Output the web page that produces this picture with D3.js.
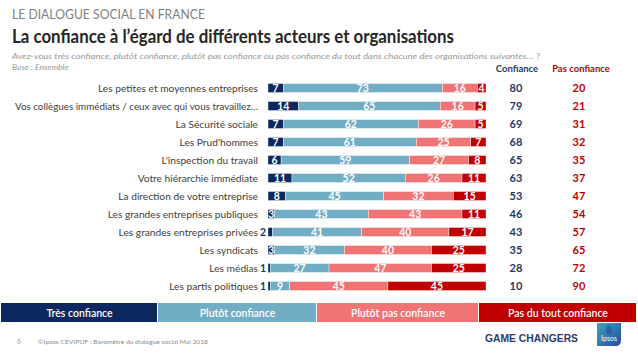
<!DOCTYPE html>
<html><head><meta charset="utf-8">
<script src="https://cdn.jsdelivr.net/npm/d3@7"></script>
<style>body{margin:0;background:#fff}svg{display:block}</style>
</head><body>
<script>
const categories = ["Les petites et moyennes entreprises","Vos collègues immédiats / ceux avec qui vous travaillez…","La Sécurité sociale","Les Prud'hommes","L'inspection du travail","Votre hiérarchie immédiate","La direction de votre entreprise","Les grandes entreprises publiques","Les grandes entreprises privées","Les syndicats","Les médias","Les partis politiques"];
const tresConfiance = [7,14,7,7,6,11,8,3,2,3,1,1];
const plutotConfiance = [73,65,62,61,59,52,45,43,41,32,27,9];
const plutotPasConfiance = [16,16,26,25,27,26,32,43,40,40,47,45];
const pasDuToutConfiance = [4,5,5,7,8,11,15,11,17,25,25,45];
const totalConfiance = [80,79,69,68,65,63,53,46,43,35,28,10];
const totalPasConfiance = [20,21,31,32,35,37,47,54,57,65,72,90];
const seriesNames = ["Très confiance","Plutôt confiance","Plutôt pas confiance","Pas du tout confiance"];
const colors = ["#0c285e","#72adc6","#f17474","#c00000"];

const W=638,H=359;
const svg=d3.select("body").append("svg").attr("width",W).attr("height",H);
const F="Lato, 'Noto Sans', sans-serif";

function txt(x,y,s,o){const t=svg.append("text").attr("x",x).attr("y",y).text(s).attr("font-family",F);
  for(const k in o) t.attr(k,o[k]); return t;}

txt(12,19,"LE DIALOGUE SOCIAL EN FRANCE",{"font-size":12.5,fill:"#808080",textLength:193,lengthAdjust:"spacingAndGlyphs"});
txt(12,43,"La confiance à l’égard de différents acteurs et organisations",{"font-size":18,"font-weight":700,fill:"#262626",textLength:442,lengthAdjust:"spacingAndGlyphs"});
txt(12,59,"Avez-vous très confiance, plutôt confiance, plutôt pas confiance ou pas confiance du tout dans chacune des organisations suivantes… ?",{"font-size":8.5,"font-style":"italic",fill:"#999999",textLength:528,lengthAdjust:"spacingAndGlyphs"});
txt(12,70,"Base : Ensemble",{"font-size":8.5,"font-style":"italic",fill:"#999999"});
txt(517,72,"Confiance",{"font-size":9.5,"font-weight":700,fill:"#1f3864","text-anchor":"middle"});
txt(581,72,"Pas confiance",{"font-size":9.5,"font-weight":700,fill:"#c00000","text-anchor":"middle"});

const x=d3.scaleLinear().domain([0,100]).range([268,486]);
const y=d3.scaleBand().domain(categories).range([79,295]).paddingInner(0.5).paddingOuter(0.25);

const data=categories.map((c,i)=>({cat:c,vals:[tresConfiance[i],plutotConfiance[i],plutotPasConfiance[i],pasDuToutConfiance[i]]}));
const stack=d3.stack().keys([0,1,2,3]).value((d,k)=>d.vals[k])(data);

const g=svg.append("g");
stack.forEach((layer,k)=>{
  const lg=g.append("g");
  lg.selectAll("rect").data(layer).join("rect")
    .attr("x",d=>x(d[0])).attr("width",d=>x(d[1])-x(d[0]))
    .attr("y",d=>y(d.data.cat)).attr("height",y.bandwidth())
    .attr("fill",colors[k]).attr("stroke","#fff").attr("stroke-width",0.4);
  lg.selectAll("text").data(layer).join("text")
    .attr("x",d=>{const v=d[1]-d[0];return v<3? x(d[0])-2 : (x(d[0])+x(d[1]))/2;})
    .attr("y",d=>y(d.data.cat)+y.bandwidth()/2+3.8)
    .attr("text-anchor",d=>(d[1]-d[0])<3?"end":"middle")
    .attr("font-family",F).attr("font-size",10.5).attr("font-weight",700)
    .attr("fill",d=>(d[1]-d[0])<3?"#1f3864":"#fff")
    .text(d=>d[1]-d[0]);
});

// category labels
svg.append("g").selectAll("text").data(categories).join("text")
  .attr("x",258).attr("y",d=>y(d)+y.bandwidth()/2+3.6).attr("text-anchor","end")
  .attr("font-family",F).attr("font-size",10.2).attr("fill","#404040").text(d=>d)
  .each(function(){ if(this.getComputedTextLength()>243){ d3.select(this).attr("textLength",243).attr("lengthAdjust","spacingAndGlyphs"); } });

// totals
svg.append("g").selectAll("text").data(totalConfiance).join("text")
  .attr("x",516).attr("y",(d,i)=>y(categories[i])+y.bandwidth()/2+4).attr("text-anchor","middle")
  .attr("font-family",F).attr("font-size",11).attr("font-weight",700).attr("fill","#1f3864").text(d=>d);
svg.append("g").selectAll("text").data(totalPasConfiance).join("text")
  .attr("x",579).attr("y",(d,i)=>y(categories[i])+y.bandwidth()/2+4).attr("text-anchor","middle")
  .attr("font-family",F).attr("font-size",11).attr("font-weight",700).attr("fill","#c00000").text(d=>d);

// legend
const lx=[1,158,317,479,637];
seriesNames.forEach((n,i)=>{
  svg.append("rect").attr("x",lx[i]).attr("y",303).attr("width",lx[i+1]-lx[i]-1).attr("height",19).attr("fill",colors[i]);
  txt((lx[i]+lx[i+1])/2,316.5,n,{"font-size":10.5,fill:"#fff","text-anchor":"middle","font-weight":600});
});

// footer
txt(17,344,"6",{"font-size":7,fill:"#a6a6a6"});
txt(38,344,"©Ipsos CEVIPOF : Baromètre du dialogue social Mai 2018",{"font-size":6.5,fill:"#8c8c8c",textLength:170,lengthAdjust:"spacingAndGlyphs"});
txt(485,342,"GAME CHANGERS",{"font-size":11.5,"font-weight":700,fill:"#2e3a6e",textLength:93,lengthAdjust:"spacingAndGlyphs","font-family":"'Liberation Sans', Arial, sans-serif"});
const defs=svg.append("defs");
const gr=defs.append("linearGradient").attr("id","lg").attr("x1",0).attr("y1",0).attr("x2",1).attr("y2",1);
gr.append("stop").attr("offset","0%").attr("stop-color","#3aa6b9");
gr.append("stop").attr("offset","100%").attr("stop-color","#2b4aa0");
svg.append("path").attr("d","M597,323 H621 V340 Q621,347 614,346 H597 Z").attr("fill","url(#lg)");
svg.append("ellipse").attr("cx",609).attr("cy",330).attr("rx",3).attr("ry",5).attr("fill","#2c5aa8").attr("opacity",0.8);
txt(609,341,"Ipsos",{"font-size":7,fill:"#fff","text-anchor":"middle"});
</script>
</body></html>
